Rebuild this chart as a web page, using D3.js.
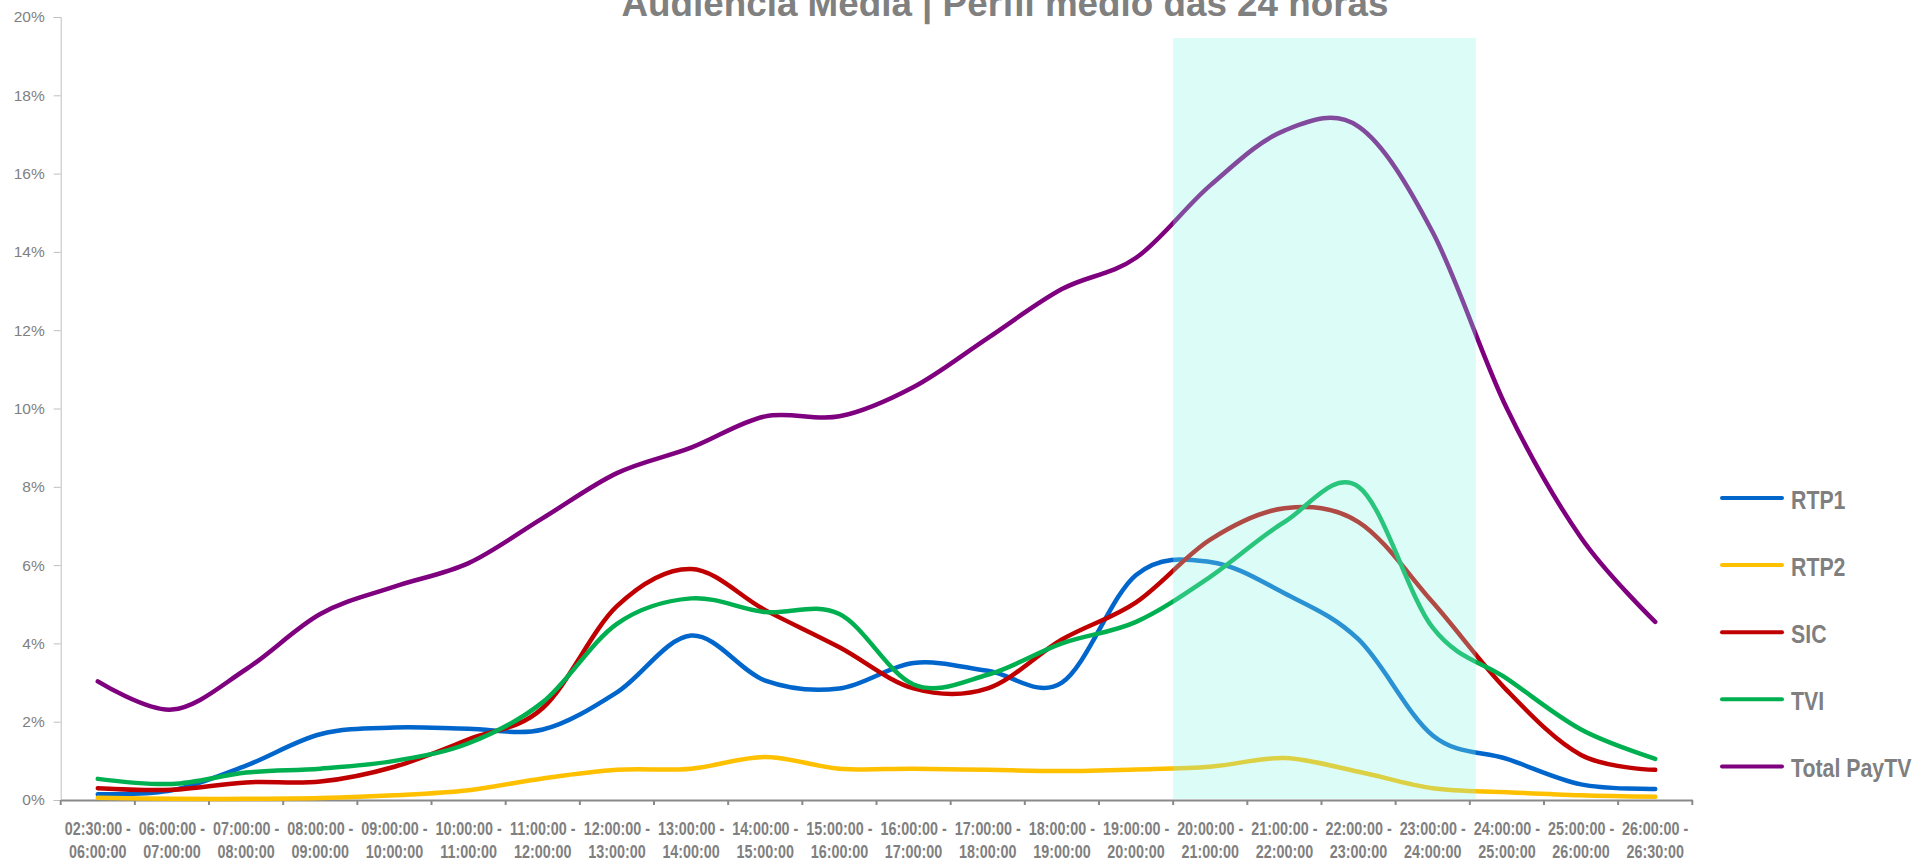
<!DOCTYPE html>
<html>
<head>
<meta charset="utf-8">
<script src="https://cdn.jsdelivr.net/npm/d3@7"></script>
<style>
    body { margin: 0; background: #fff; }
    svg { display: block; }
</style>
</head>
<body>
<script>
// time slots (two-line labels)
const slots = [
    ["02:30:00 -", "06:00:00"], ["06:00:00 -", "07:00:00"], ["07:00:00 -", "08:00:00"],
    ["08:00:00 -", "09:00:00"], ["09:00:00 -", "10:00:00"], ["10:00:00 -", "11:00:00"],
    ["11:00:00 -", "12:00:00"], ["12:00:00 -", "13:00:00"], ["13:00:00 -", "14:00:00"],
    ["14:00:00 -", "15:00:00"], ["15:00:00 -", "16:00:00"], ["16:00:00 -", "17:00:00"],
    ["17:00:00 -", "18:00:00"], ["18:00:00 -", "19:00:00"], ["19:00:00 -", "20:00:00"],
    ["20:00:00 -", "21:00:00"], ["21:00:00 -", "22:00:00"], ["22:00:00 -", "23:00:00"],
    ["23:00:00 -", "24:00:00"], ["24:00:00 -", "25:00:00"], ["25:00:00 -", "26:00:00"],
    ["26:00:00 -", "26:30:00"]
];

// audience share in %
const rtp1 = [0.15, 0.25, 0.88, 1.68, 1.85, 1.82, 1.8, 2.75, 4.2, 3.05, 2.85, 3.5, 3.3, 3.0, 5.75, 6.08, 5.28, 4.1, 1.65, 1.05, 0.4, 0.28];
const rtp2 = [0.06, 0.03, 0.03, 0.05, 0.12, 0.25, 0.55, 0.77, 0.8, 1.1, 0.8, 0.8, 0.77, 0.74, 0.78, 0.85, 1.07, 0.72, 0.3, 0.2, 0.12, 0.08];
const sic = [0.3, 0.26, 0.45, 0.47, 0.85, 1.55, 2.35, 4.95, 5.9, 4.85, 3.9, 2.85, 2.85, 4.1, 5.05, 6.65, 7.45, 7.1, 5.05, 2.8, 1.15, 0.77];
const tvi = [0.54, 0.41, 0.7, 0.8, 1.0, 1.45, 2.5, 4.5, 5.15, 4.8, 4.75, 2.95, 3.2, 4.0, 4.55, 5.7, 7.1, 8.0, 4.4, 3.1, 1.8, 1.05];
const paytv = [3.03, 2.31, 3.34, 4.75, 5.45, 6.05, 7.2, 8.35, 9.0, 9.8, 9.8, 10.55, 11.8, 13.05, 13.85, 15.7, 17.1, 17.2, 14.5, 10.0, 6.7, 4.55];

const seriesNames = ["RTP1", "RTP2", "SIC", "TVI", "Total PayTV"];
const seriesValues = [rtp1, rtp2, sic, tvi, paytv];
const seriesColors = ["#0066cc", "#ffc000", "#c00000", "#00b050", "#7f007f"];

const yTicks = [0, 2, 4, 6, 8, 10, 12, 14, 16, 18, 20];

// prime time band
const bandFrom = "20:00:00 -", bandTo = "23:00:00 -";

const W = 1916, H = 861;
const x0 = 60.7, x1 = 1692.3, yBottom = 800, yTop = 17;
// no narrow font installed: squeeze bold sans horizontally
const narrow = 0.82;
const boldFont = "'Liberation Sans', Arial, sans-serif";

const svg = d3.select("body").append("svg")
    .attr("width", W)
    .attr("height", H);

const keys = slots.map(d => d[0]);

const x = d3.scaleBand()
    .domain(keys)
    .range([x0, x1])
    .paddingInner(0)
    .paddingOuter(0);

const y = d3.scaleLinear()
    .domain([0, 20])
    .range([yBottom, yTop]);

const cx = k => x(k) + x.bandwidth() / 2;

// title (cut at the top like the original)
svg.append("text")
    .attr("x", 1005)
    .attr("y", 16)
    .attr("text-anchor", "middle")
    .attr("textLength", 767)
    .attr("lengthAdjust", "spacingAndGlyphs")
    .style("font-family", boldFont)
    .style("font-weight", "bold")
    .style("font-size", "37px")
    .style("fill", "#808080")
    .text("Audiência Média | Perfil médio das 24 horas");

// y axis
const yAxis = svg.append("g")
    .attr("transform", "translate(" + x0 + ",0)")
    .call(d3.axisLeft(y).tickValues(yTicks).tickSize(7).tickPadding(9).tickFormat(d => d + "%"));

yAxis.select(".domain").attr("stroke", "#bfbfbf").attr("stroke-width", 1);
yAxis.selectAll(".tick line").attr("stroke", "#bfbfbf");
yAxis.selectAll(".tick text")
    .style("font-family", "'Liberation Sans', Arial, sans-serif")
    .style("font-size", "15.5px")
    .style("fill", "#7f7f7f");

// x axis
const xAxis = svg.append("g")
    .attr("transform", "translate(0," + yBottom + ")")
    .call(d3.axisBottom(x).tickSize(0).tickFormat(""));

xAxis.select(".domain").attr("stroke", "#898989").attr("stroke-width", 2.2);

// tick marks on category boundaries
xAxis.selectAll(".bound")
    .data(d3.range(keys.length + 1))
    .enter()
    .append("line")
    .attr("class", "bound")
    .attr("x1", i => x0 + i * x.bandwidth())
    .attr("x2", i => x0 + i * x.bandwidth())
    .attr("y1", 0)
    .attr("y2", 5)
    .attr("stroke", "#898989")
    .attr("stroke-width", 2);

const xl = xAxis.selectAll(".xlab")
    .data(slots)
    .enter()
    .append("text")
    .attr("class", "xlab")
    .attr("text-anchor", "middle")
    .attr("transform", d => "translate(" + cx(d[0]) + ",0) scale(" + narrow + ",1)")
    .style("font-family", boldFont)
    .style("font-weight", "bold")
    .style("font-size", "17.5px")
    .style("fill", "#7f7f7f");

xl.append("tspan")
    .attr("x", 0)
    .attr("y", 35)
    .text(d => d[0]);

xl.append("tspan")
    .attr("x", 0)
    .attr("y", 58)
    .text(d => d[1]);

// lines
const line = d3.line()
    .x((d, i) => cx(keys[i]))
    .y(d => y(d))
    .curve(d3.curveCatmullRom.alpha(0));

svg.append("g")
    .selectAll("path")
    .data(seriesValues)
    .enter()
    .append("path")
    .attr("d", line)
    .attr("fill", "none")
    .attr("stroke", (d, i) => seriesColors[i])
    .attr("stroke-width", 4.5)
    .attr("stroke-linecap", "round")
    .attr("stroke-linejoin", "round");

// highlight band drawn over the lines, semi transparent
const bx = x(bandFrom);
const bw = x(bandTo) + x.bandwidth() * 1.08 - bx;
svg.append("rect")
    .attr("x", bx)
    .attr("y", 38)
    .attr("width", bw)
    .attr("height", yBottom - 1 - 38)
    .attr("fill", "rgb(138,245,228)")
    .attr("fill-opacity", 0.3);

// legend
const legend = svg.append("g")
    .attr("transform", "translate(1722,498)");

const li = legend.selectAll("g")
    .data(seriesNames)
    .enter()
    .append("g")
    .attr("transform", (d, i) => "translate(0," + i * 67.1 + ")");

li.append("line")
    .attr("x1", 0)
    .attr("x2", 60)
    .attr("stroke", (d, i) => seriesColors[i])
    .attr("stroke-width", 4)
    .attr("stroke-linecap", "round");

li.append("text")
    .attr("transform", "translate(69,11) scale(" + narrow + ",1)")
    .style("font-family", boldFont)
    .style("font-weight", "bold")
    .style("font-size", "26px")
    .style("fill", "#7f7f7f")
    .text(d => d);
</script>
</body>
</html>
